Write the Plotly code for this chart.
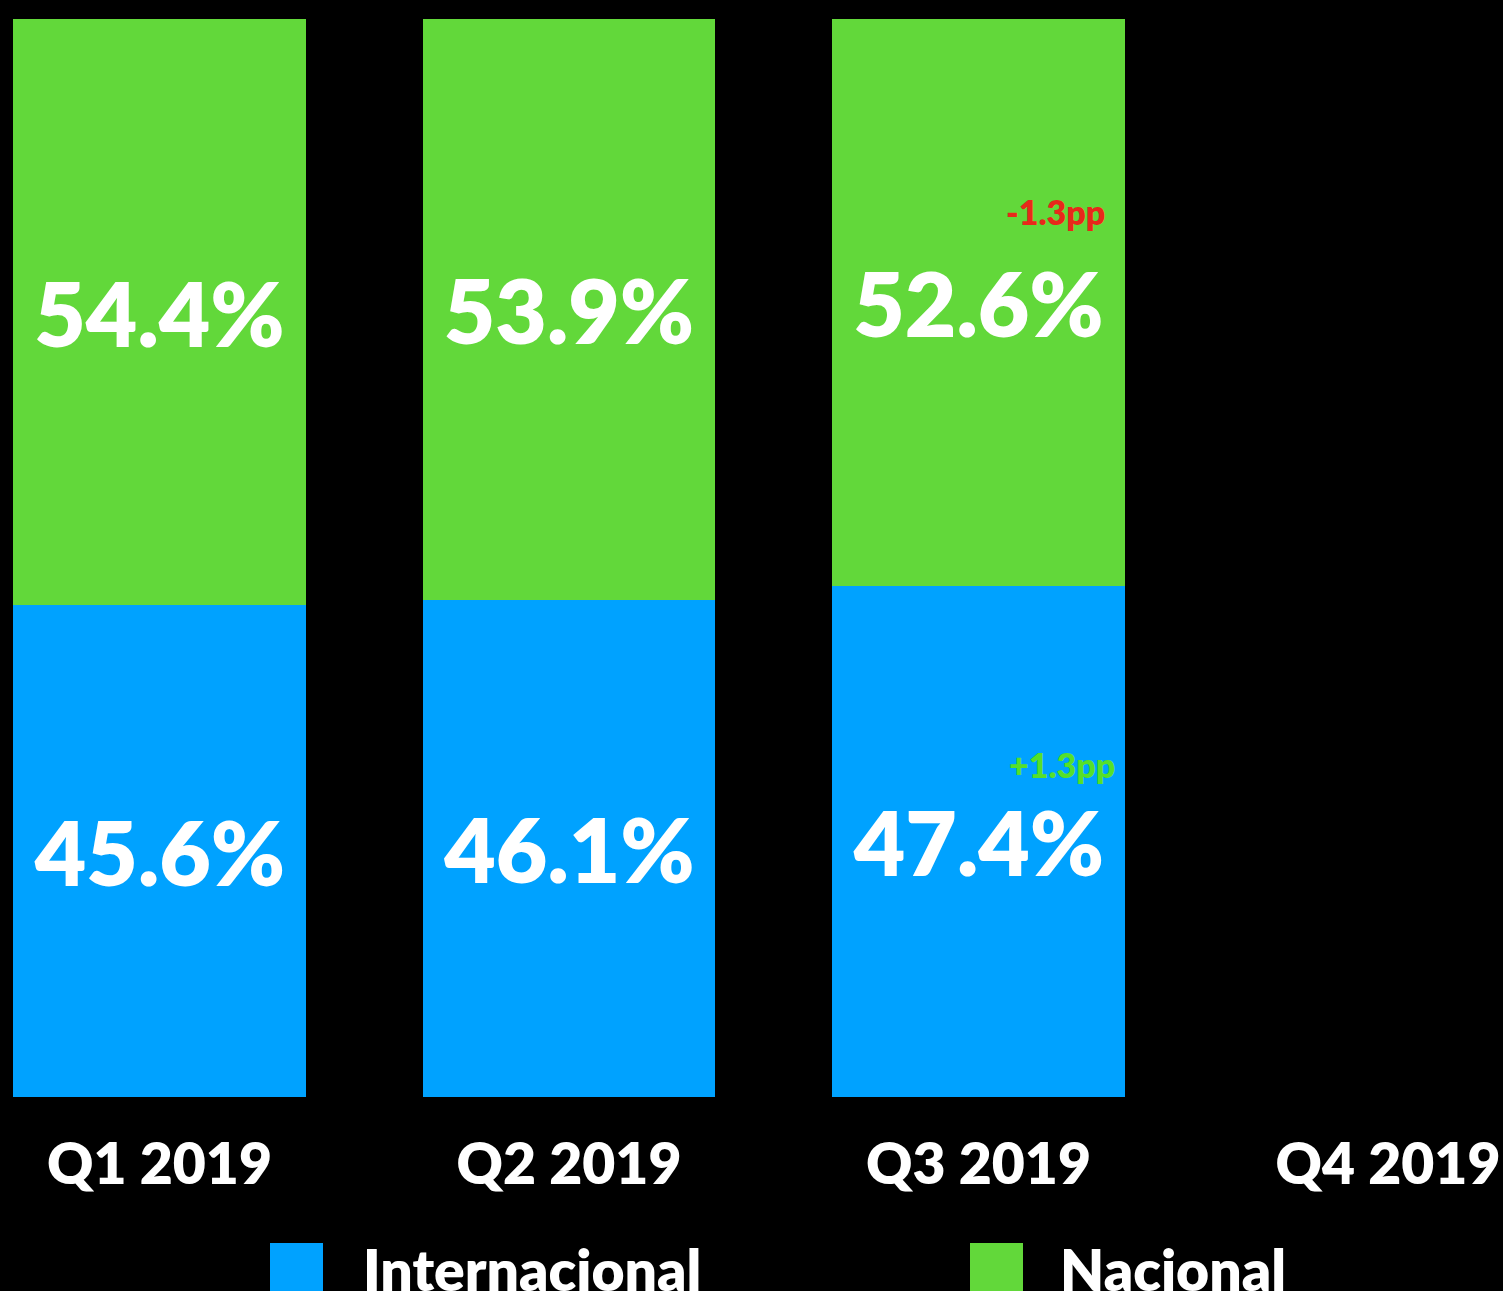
import plotly.graph_objects as go

quarters = ["Q1 2019", "Q2 2019", "Q3 2019", "Q4 2019"]
internacional = [45.6, 46.1, 47.4, None]
nacional = [54.4, 53.9, 52.6, None]
series_names = ["Internacional", "Nacional"]
colors = ["#00A2FF", "#62D83A"]

change_labels = ["-1.3pp", "+1.3pp"]
change_y = [82.1, 30.8]
change_colors = ["#E8281A", "#55E02A"]

W, H = 1503, 1291
top, bottom = 19, 194
plot_h = H - top - bottom

FONT = "Lato"

fig = go.Figure()
for name, vals, col in zip(series_names, [internacional, nacional], colors):
    fig.add_trace(go.Bar(
        x=quarters, y=vals, name=name, marker_color=col, marker_line_width=0,
        text=[f"{v:.1f}%" if v is not None else "" for v in vals],
        textposition="inside", insidetextanchor="middle", textangle=0,
        textfont=dict(family=FONT, size=89, color="white", weight=800),
        cliponaxis=False,
    ))

# change annotations on Q3
for lab, yv, col, xs in zip(change_labels, change_y, change_colors, [77, 83]):
    fig.add_annotation(x="Q3 2019", y=yv, text=lab, showarrow=False, xshift=xs,
                       font=dict(family=FONT, size=34, color=col, weight=800))

# custom legend under the axis
def px_x(p):
    return p / W

def px_y(p):
    return (H - bottom - p) / plot_h

legend_sq = [270, 970]
legend_txt = [361, 1058]
for name, col, sx, tx in zip(series_names, colors, legend_sq, legend_txt):
    fig.add_shape(type="rect", xref="paper", yref="paper",
                  x0=px_x(sx), x1=px_x(sx + 53), y0=px_y(1243), y1=px_y(1300),
                  fillcolor=col, line_width=0)
    fig.add_annotation(xref="paper", yref="paper", x=px_x(tx), y=px_y(1233),
                       xanchor="left", yanchor="top", text=name, showarrow=False,
                       font=dict(family=FONT, size=57, color="white", weight=800))

cat_w = 409.5
start = -159.5 / cat_w
fig.update_layout(
    barmode="stack", bargap=0.285, showlegend=False,
    width=W, height=H,
    paper_bgcolor="black", plot_bgcolor="black",
    margin=dict(l=0, r=0, t=top, b=bottom),
    xaxis=dict(range=[start, start + W / cat_w], showgrid=False, zeroline=False,
               showline=False, ticks="outside", ticklen=18, tickcolor="black",
               tickfont=dict(family=FONT, size=57, color="white", weight=800)),
    yaxis=dict(range=[0, 100], visible=False),
)

fig.write_html("out.html", config={"displayModeBar": False},
               post_script="document.body.style.margin='0';document.body.style.background='black';")
